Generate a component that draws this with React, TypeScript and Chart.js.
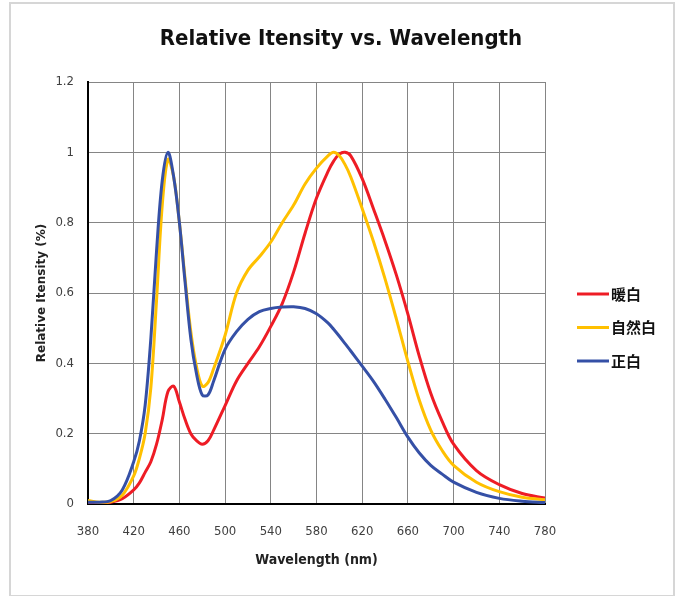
import React, { useEffect, useRef } from "react";
import { Chart, registerables } from "chart.js";

Chart.register(...registerables);

const wavelengths = [380, 390, 400, 410, 420, 425, 430, 435, 440, 445, 450, 455, 460, 465, 470, 475, 480, 485, 490, 500, 510, 520, 530, 540, 550, 560, 570, 580, 590, 595, 600, 605, 610, 620, 630, 640, 650, 660, 670, 680, 690, 700, 720, 740, 760, 780];

const warmWhite = [0.002, 0.002, 0.005, 0.015, 0.04, 0.06, 0.09, 0.12, 0.17, 0.24, 0.32, 0.335, 0.29, 0.24, 0.2, 0.18, 0.17, 0.18, 0.21, 0.28, 0.35, 0.4, 0.447, 0.505, 0.57, 0.66, 0.77, 0.87, 0.945, 0.975, 0.995, 1.0, 0.99, 0.925, 0.838, 0.748, 0.65, 0.54, 0.42, 0.315, 0.235, 0.17, 0.095, 0.055, 0.03, 0.017];

const naturalWhite = [0.01, 0.005, 0.007, 0.025, 0.08, 0.13, 0.2, 0.33, 0.58, 0.85, 0.98, 0.93, 0.8, 0.64, 0.49, 0.39, 0.335, 0.345, 0.385, 0.48, 0.6, 0.665, 0.703, 0.745, 0.8, 0.85, 0.91, 0.955, 0.99, 1.0, 0.99, 0.965, 0.93, 0.84, 0.745, 0.64, 0.525, 0.405, 0.295, 0.21, 0.152, 0.11, 0.062, 0.035, 0.019, 0.012];

const pureWhite = [0.005, 0.005, 0.01, 0.04, 0.12, 0.18, 0.28, 0.47, 0.72, 0.92, 1.0, 0.93, 0.8, 0.63, 0.47, 0.37, 0.31, 0.31, 0.35, 0.44, 0.49, 0.525, 0.547, 0.556, 0.56, 0.561, 0.556, 0.541, 0.515, 0.497, 0.477, 0.456, 0.435, 0.392, 0.348, 0.298, 0.245, 0.19, 0.145, 0.11, 0.085, 0.062, 0.033, 0.016, 0.008, 0.004];

const seriesNames = ["暖白", "自然白", "正白"];
const seriesColors = ["#EE1C25", "#FFC000", "#3550A6"];
const xTicks = [380, 420, 460, 500, 540, 580, 620, 660, 700, 740, 780];
const yTicks = [0, 0.2, 0.4, 0.6, 0.8, 1, 1.2];

const titleText = "Relative Itensity vs. Wavelength";
const xTitle = "Wavelength (nm)";
const yTitle = "Relative Itensity (%)";

const NARROW = "'DejaVu Sans Condensed', 'Liberation Sans Narrow', sans-serif";
const CJK = "'Noto Sans CJK SC', sans-serif";

const titlePlugin = {
  id: "topTitle",
  afterDraw(chart: any) {
    const ctx = chart.ctx;
    ctx.save();
    ctx.fillStyle = "#111";
    ctx.font = `bold 22px ${NARROW}`;
    ctx.textAlign = "center";
    ctx.textBaseline = "middle";
    ctx.fillText(titleText, 341, 39);
    ctx.restore();
  },
};

const legendPlugin = {
  id: "sideLegend",
  afterDraw(chart: any) {
    const ctx = chart.ctx;
    ctx.save();
    chart.data.datasets.forEach((ds: any, i: number) => {
      const y = 294 + i * 33.5;
      ctx.strokeStyle = ds.borderColor;
      ctx.lineWidth = 3;
      ctx.beginPath();
      ctx.moveTo(577, y);
      ctx.lineTo(609, y);
      ctx.stroke();
      ctx.fillStyle = "#111";
      ctx.font = `bold 15px ${CJK}`;
      ctx.textBaseline = "middle";
      ctx.textAlign = "left";
      ctx.fillText(ds.label, 611, y);
    });
    ctx.restore();
  },
};

export default function App() {
  const ref = useRef<HTMLCanvasElement | null>(null);

  useEffect(() => {
    if (!ref.current) return;
    const all = [warmWhite, naturalWhite, pureWhite];
    const chart = new Chart(ref.current, {
      type: "line",
      data: {
        datasets: all.map((vals, i) => ({
          label: seriesNames[i],
          data: wavelengths.map((w, j) => ({ x: w, y: vals[j] })),
          borderColor: seriesColors[i],
          backgroundColor: seriesColors[i],
          borderWidth: 3,
          pointRadius: 0,
          tension: 0.35,
          fill: false,
          order: 3 - i,
        })),
      },
      options: {
        responsive: false,
        animation: false,
        layout: { padding: { left: 0, right: 134, top: 82, bottom: 0 } },
        plugins: {
          legend: { display: false },
          tooltip: { enabled: false },
          title: { display: false },
        },
        scales: {
          x: {
            type: "linear",
            min: 380,
            max: 780,
            afterBuildTicks: (s: any) => {
              s.ticks = xTicks.map((v) => ({ value: v }));
            },
            ticks: {
              autoSkip: false,
              maxRotation: 0,
              padding: 20,
              color: "#404040",
              font: { family: NARROW, size: 13 },
            },
            grid: { color: "#858585", lineWidth: 1, drawTicks: false },
            border: { color: "#000", width: 2 },
            title: {
              display: true,
              text: xTitle,
              color: "#222",
              font: { family: NARROW, size: 14, weight: "bold" },
              padding: { top: 0, bottom: 27 },
            },
            afterFit: (s: any) => {
              s.height = 92;
            },
          },
          y: {
            min: 0,
            max: 1.2,
            afterBuildTicks: (s: any) => {
              s.ticks = yTicks.map((v) => ({ value: v }));
            },
            ticks: {
              padding: 14,
              color: "#404040",
              font: { family: NARROW, size: 13 },
              callback: (v: any) => String(Math.round(Number(v) * 10) / 10),
            },
            grid: { color: "#858585", lineWidth: 1, drawTicks: false },
            border: { color: "#000", width: 2 },
            title: {
              display: true,
              text: yTitle,
              color: "#222",
              font: { family: "'DejaVu Sans', sans-serif", size: 12, weight: "bold" },
              padding: { top: 35, bottom: 0 },
            },
            afterFit: (s: any) => {
              s.width = 88;
            },
          },
        },
      },
      plugins: [titlePlugin, legendPlugin],
    });
    return () => chart.destroy();
  }, []);

  return (
    <div style={{ position: "fixed", left: 0, top: 0, width: 679, height: 596, background: "#fff" }}>
      <canvas ref={ref} width={679} height={596} style={{ position: "absolute", left: 0, top: 0 }} />
      <div
        style={{
          position: "absolute",
          left: 9,
          top: 2,
          width: 662,
          height: 591,
          border: "2px solid #d6d6d6",
          pointerEvents: "none",
        }}
      />
    </div>
  );
}
